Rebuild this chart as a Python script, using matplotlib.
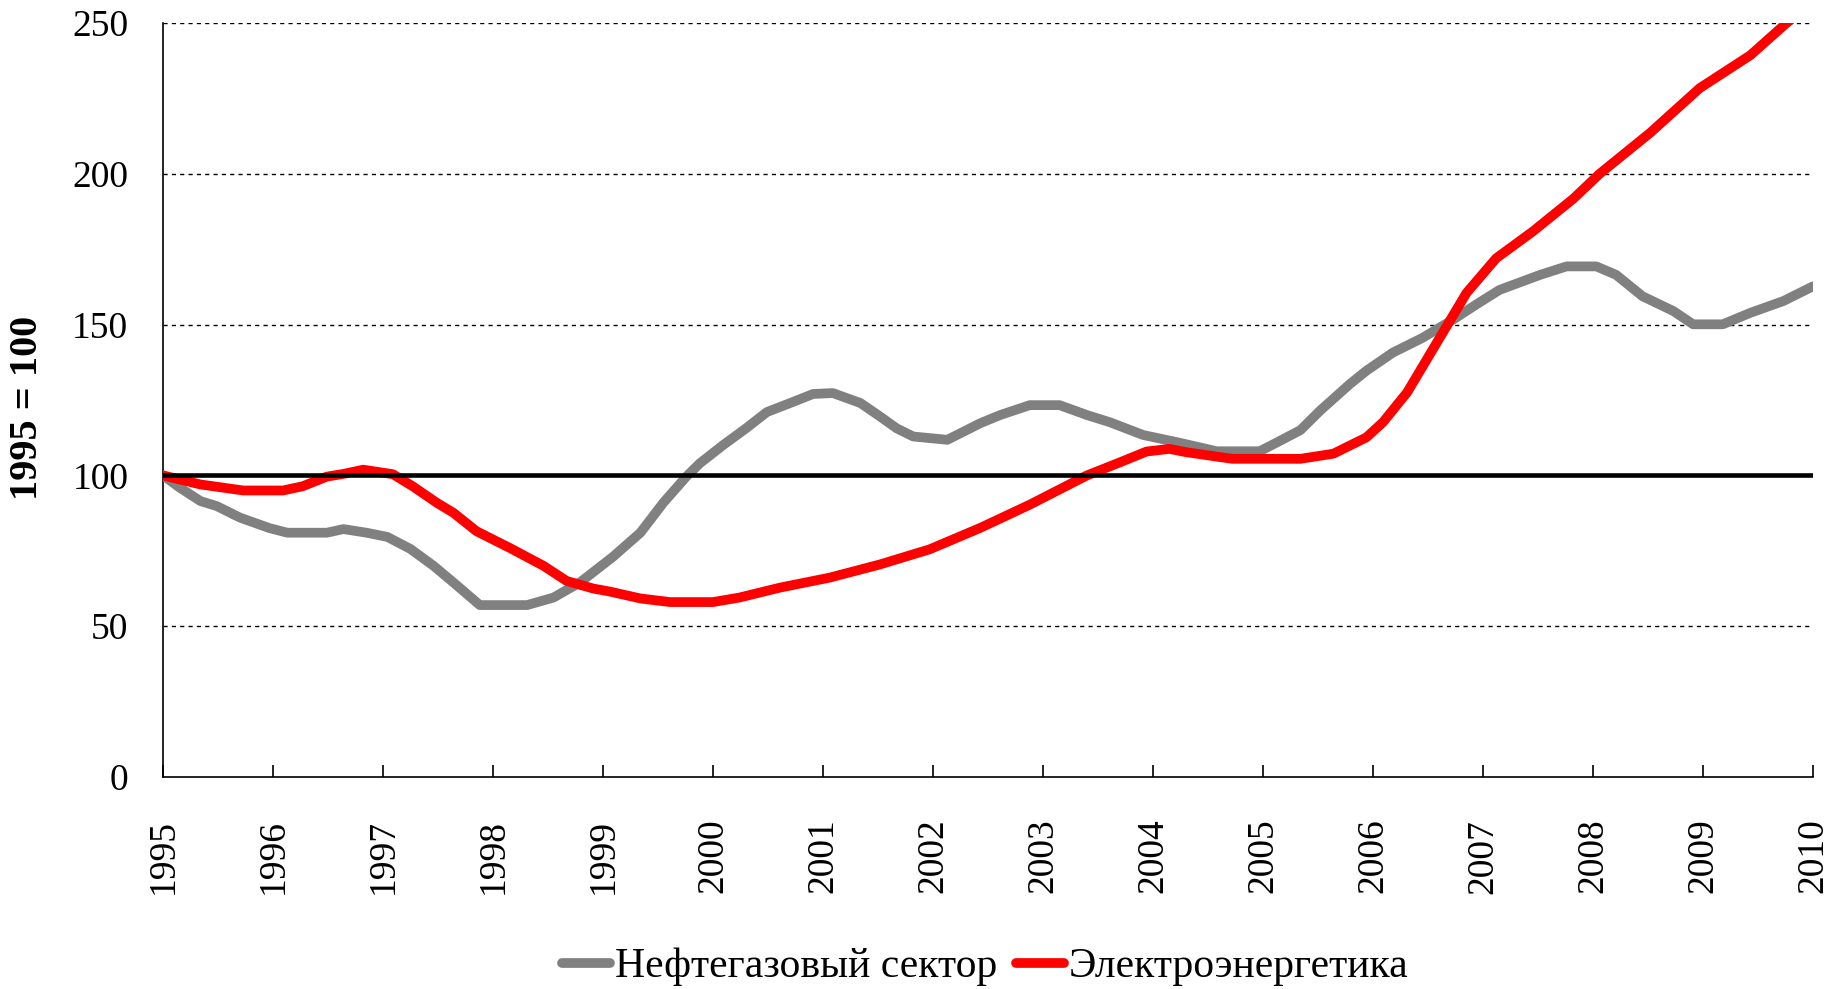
import matplotlib
matplotlib.use("Agg")
import matplotlib.pyplot as plt

plt.rcParams['font.family'] = ['Liberation Serif', 'DejaVu Serif']

years = list(range(1995, 2011))
y_ticks = [0, 50, 100, 150, 200, 250]

# Нефтегазовый сектор (gray)
oil_x = [1995.00, 1995.15, 1995.34, 1995.49, 1995.70, 1995.97, 1996.13, 1996.49,
         1996.64, 1996.85, 1997.04, 1997.25, 1997.46, 1997.64, 1997.88, 1998.31,
         1998.55, 1998.79, 1999.09, 1999.34, 1999.55, 1999.76, 1999.88, 2000.09,
         2000.30, 2000.49, 2000.73, 2000.91, 2001.09, 2001.34, 2001.52, 2001.67,
         2001.82, 2002.13, 2002.43, 2002.61, 2002.88, 2003.15, 2003.40, 2003.61,
         2003.91, 2004.22, 2004.58, 2004.97, 2005.13, 2005.34, 2005.52, 2005.79,
         2005.94, 2006.18, 2006.45, 2006.73, 2006.94, 2007.15, 2007.52, 2007.76,
         2008.03, 2008.21, 2008.45, 2008.73, 2008.91, 2009.18, 2009.43, 2009.73,
         2010.00]
oil_y = [100, 96, 91.5, 89.8, 86, 82.5, 81, 81,
         82.2, 81, 79.6, 75.6, 70, 64.5, 57, 57,
         59.5, 64.5, 73, 81, 91, 99.7, 104, 110,
         115.6, 121, 124.4, 127, 127.3, 124, 119.5, 115.6,
         112.9, 111.8, 117.3, 120, 123.3, 123.3, 120, 117.6,
         113.4, 111, 108, 108, 111, 115, 121.5, 130.3,
         134.7, 140.7, 145.6, 151.7, 156.7, 161.5, 166.5, 169.3,
         169.3, 166.5, 159.4, 154.5, 150.1, 150.1, 153.9, 157.8,
         162.7]

# Электроэнергетика (red)
power_x = [1995.00, 1995.34, 1995.73, 1996.09, 1996.27, 1996.49, 1996.64, 1996.82,
           1997.09, 1997.27, 1997.49, 1997.64, 1997.85, 1998.15, 1998.46, 1998.67,
           1998.91, 1999.06, 1999.34, 1999.61, 2000.00, 2000.24, 2000.61, 2001.06,
           2001.52, 2001.97, 2002.43, 2002.88, 2003.40, 2003.67, 2003.94, 2004.15,
           2004.30, 2004.72, 2005.34, 2005.64, 2005.94, 2006.09, 2006.31, 2006.49,
           2006.67, 2006.85, 2007.12, 2007.45, 2007.82, 2008.06, 2008.52, 2008.97,
           2009.43, 2009.76, 2010.00]
power_y = [100, 97, 95, 95, 96.4, 99.6, 100.5, 101.9,
           100.4, 96.4, 90.9, 87.6, 81.5, 76, 70, 65,
           62.5, 61.5, 59.2, 58, 58, 59.5, 62.8, 66.1,
           70.5, 75.5, 82.6, 90.3, 100, 103.9, 107.9, 108.8,
           107.7, 105.5, 105.5, 107.2, 112.6, 117.6, 127.5, 138.5,
           149.5, 160.5, 172, 180.8, 191.7, 200, 213.6, 228.4,
           239.3, 250, 257]

base_level = 100

fig = plt.figure(figsize=(18.31, 9.89), dpi=100)
ax = fig.add_axes([163 / 1831, 1 - 777 / 989, (1813 - 163) / 1831, (777 - 23) / 989])

for v in y_ticks[1:]:
    ax.axhline(v, color='black', lw=1, linestyle=(0, (3, 3)), zorder=1)

ax.plot(oil_x, oil_y, color='#808080', lw=7, solid_capstyle='round',
        label='Нефтегазовый сектор', zorder=3)
ax.plot(power_x, power_y, color='#ff0000', lw=7, solid_capstyle='round',
        label='Электроэнергетика', zorder=4)
ax.axhline(base_level, color='black', lw=3.3, zorder=5)

ax.set_xlim(1995, 2010)
ax.set_ylim(0, 250)
ax.set_xticks(years)
ax.set_xticklabels([str(y) for y in years], rotation=90)
ax.set_yticks(y_ticks)

ax.tick_params(axis='x', direction='in', length=9, width=1.2, pad=30, labelsize=27)
ax.tick_params(axis='y', length=0, pad=25, labelsize=27)

for s in ['top', 'right']:
    ax.spines[s].set_visible(False)
for s in ['left', 'bottom']:
    ax.spines[s].set_linewidth(1.2)

ax.set_ylabel('1995 = 100', fontsize=29, fontweight='bold')
ax.yaxis.set_label_coords(-0.071, 0.49)

fig.legend(loc='center', bbox_to_anchor=(985 / 1831, 22 / 989), ncol=2, frameon=False,
           fontsize=30, handlelength=1.15, handletextpad=0.12, columnspacing=0.45,
           borderpad=0)

fig.savefig('out.png', dpi=100)
